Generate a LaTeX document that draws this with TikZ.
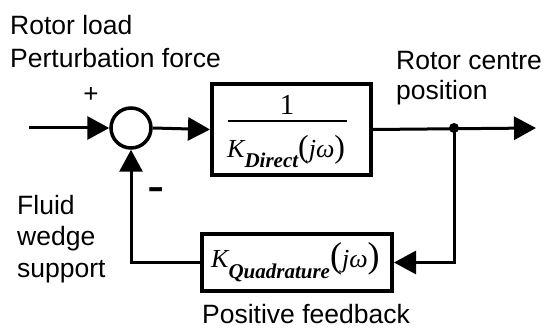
\documentclass[tikz,border=0pt]{standalone}
\usepackage[no-math]{fontspec}
\setmainfont{Liberation Sans}
\newfontfamily\serfont{Liberation Serif}
\usetikzlibrary{arrows.meta}
\newcommand\myparen[2]{{\fontsize{#1}{#1}\selectfont\upshape #2}}
\newcommand\mysub[1]{\raisebox{-10pt}{\fontsize{21}{24}\selectfont\bfseries\itshape #1}}
\begin{document}
\begin{tikzpicture}[x=1pt,y=-1pt,
  lbl/.style={font=\fontsize{26.5}{31}\selectfont, inner sep=0pt, anchor=base west},
  mth/.style={font=\serfont\fontsize{26}{30}\selectfont\itshape, inner sep=0pt, anchor=base west},
  blk/.style={draw, line width=4pt, inner sep=0pt},
  ln/.style={line width=3pt},
  arr/.style={ln, -{Triangle[length=22pt,width=23pt]}}]
\useasboundingbox (0,0) rectangle (549,331);
% texts
\node[lbl] (t1) at (10,34.5) {Rotor load};
\node[lbl] (t2) at (10,68) {Perturbation force};
\node[lbl] (t3) at (396,70) {Rotor centre};
\node[lbl] (t4) at (396,100) {position};
\node[lbl] (t5) at (17,215) {Fluid};
\node[lbl] (t6) at (17,246) {wedge};
\node[lbl] (t7) at (17,277) {support};
\node[lbl] (t8) at (202,323) {Positive feedback};
\node[font=\fontsize{26}{31}\selectfont, inner sep=0pt] (plus) at (91,95) {+};
\node[font=\fontsize{52}{52}\selectfont, inner sep=0pt, anchor=base] (minus) at (156,204) {-};
% blocks
\node[circle, draw, line width=3.5pt, minimum size=40pt, inner sep=0pt] (s) at (131,128) {};
\node[blk, minimum width=159pt, minimum height=91pt] (d) at (291.5,129.5) {};
\node[blk, minimum width=190pt, minimum height=57pt] (q) at (297,262.5) {};
% transfer functions
\node[font=\serfont\fontsize{29}{30}\selectfont, inner sep=0pt, anchor=base] (num) at (287,115) {1};
\coordinate (barl) at (228,121);
\coordinate (barr) at (347,121);
\draw[line width=2.5pt] (barl) -- (barr);
\node[mth] (den) at (227,158) {K\mysub{Direct}\myparen{32}{(}jω\myparen{32}{)}};
\node[mth] (kq) at (211,268) {K\mysub{Quadrature}\myparen{36}{(}jω\myparen{36}{)}};
\coordinate (in) at (29,128);
\coordinate (out) at (536,128);
\coordinate (j) at (454,128);
% connectors
\draw[arr] (in) -- (s.west);
\draw[arr] (s.east) -- (d.west);
\draw[arr] (d.east) -- (out);
\draw[arr] (j) |- (q.east);
\draw[arr] (q.west) -| (s.south);
\fill (j) circle (5pt);
\end{tikzpicture}
\end{document}
